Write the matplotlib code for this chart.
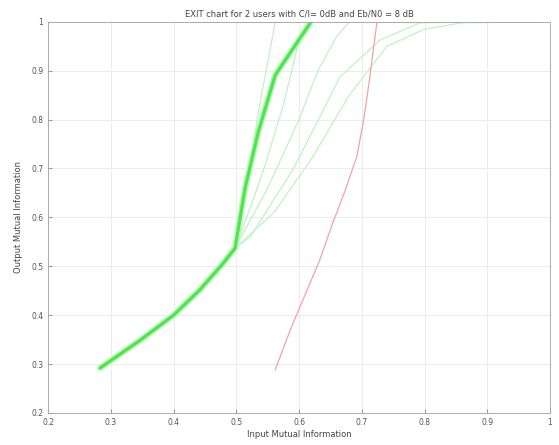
import matplotlib
matplotlib.use("Agg")
import matplotlib.pyplot as plt

# shared lower part of the green curves
base_x = [0.283, 0.347, 0.400, 0.442, 0.477, 0.498]
base_y = [0.292, 0.349, 0.400, 0.452, 0.503, 0.537]

# thick green branch
main_x = [0.498, 0.514, 0.535, 0.562, 0.618]
main_y = [0.537, 0.660, 0.775, 0.891, 0.998]

# thin green branches
g1_x = [0.498, 0.520, 0.540, 0.555, 0.562]
g1_y = [0.537, 0.700, 0.850, 0.950, 1.000]
g2_x = [0.498, 0.525, 0.546, 0.575, 0.597, 0.610]
g2_y = [0.537, 0.630, 0.707, 0.830, 0.946, 0.993]
g3_x = [0.498, 0.550, 0.600, 0.630, 0.660, 0.680]
g3_y = [0.537, 0.660, 0.800, 0.900, 0.970, 1.000]
g4_x = [0.498, 0.522, 0.590, 0.633, 0.665, 0.729, 0.793, 0.900, 1.000]
g4_y = [0.537, 0.560, 0.697, 0.805, 0.887, 0.963, 0.998, 1.000, 1.000]
g5_x = [0.498, 0.560, 0.620, 0.680, 0.740, 0.800, 0.860, 1.000]
g5_y = [0.537, 0.610, 0.720, 0.850, 0.950, 0.985, 0.998, 1.000]

# red curve
red_x = [0.562, 0.586, 0.613, 0.633, 0.654, 0.672, 0.692, 0.703, 0.712, 0.718, 0.724]
red_y = [0.288, 0.370, 0.452, 0.513, 0.590, 0.650, 0.724, 0.800, 0.880, 0.940, 0.998]

x_ticks = [0.2, 0.3, 0.4, 0.5, 0.6, 0.7, 0.8, 0.9, 1]
y_ticks = [0.2, 0.3, 0.4, 0.5, 0.6, 0.7, 0.8, 0.9, 1]

fig = plt.figure(figsize=(5.59, 4.45), dpi=100)
ax = fig.add_axes([0.086, 0.072, 0.898, 0.879])

thin = "#c2f2c2"
for bx, by in [(g1_x, g1_y), (g2_x, g2_y), (g3_x, g3_y), (g4_x, g4_y), (g5_x, g5_y)]:
    ax.plot(base_x + bx, base_y + by, color=thin, linewidth=0.9)

# soft halo under the thick curve, as in the blurred original
ax.plot(base_x + main_x, base_y + main_y, color="#b8f5b8", linewidth=4.5, solid_capstyle="round")
ax.plot(base_x + main_x, base_y + main_y, color="#4ee44e", linewidth=2.2, solid_capstyle="round")
ax.plot(red_x, red_y, color="#f0a4a4", linewidth=0.9)

ax.set_xlim(0.2, 1)
ax.set_ylim(0.2, 1)
ax.set_xticks(x_ticks)
ax.set_yticks(y_ticks)
ax.set_xticklabels([f"{v:g}" for v in x_ticks])
ax.set_yticklabels([f"{v:g}" for v in y_ticks])
ax.tick_params(direction="in", labelsize=5.5, length=3, color="#999999", labelcolor="#555555")
ax.grid(True, color="#ececec", linewidth=0.7)
for s in ax.spines.values():
    s.set_color("#aaaaaa")
    s.set_linewidth(0.7)

ax.set_title("EXIT chart for 2 users with C/I= 0dB and Eb/N0 = 8 dB", fontsize=6, color="#444444", pad=4)
ax.set_xlabel("Input Mutual Information", fontsize=6, color="#444444", labelpad=2)
ax.set_ylabel("Output Mutual Information", fontsize=6, color="#444444", labelpad=6)

fig.savefig("out.png", dpi=100)
